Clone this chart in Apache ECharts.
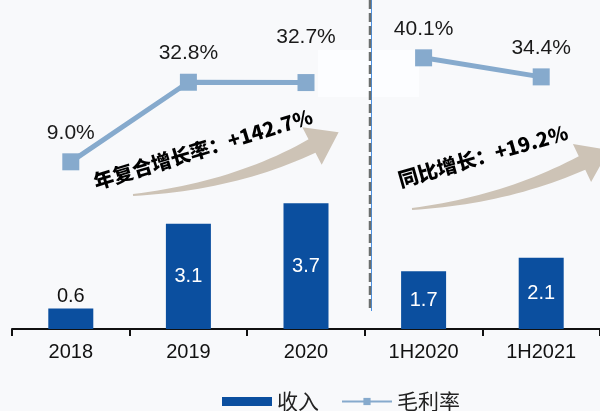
<!DOCTYPE html>
<html>
<head>
<meta charset="utf-8">
<script src="https://cdn.jsdelivr.net/npm/echarts@6/dist/echarts.min.js"></script>
<style>
  html, body { margin: 0; padding: 0; background: #f8f9fb; }
  #chart { width: 600px; height: 411px; }
</style>
</head>
<body>
<div id="chart"></div>
<script>
const categories = ["2018", "2019", "2020", "1H2020", "1H2021"];
const revenue = [0.6, 3.1, 3.7, 1.7, 2.1];
const grossMargin = [9.0, 32.8, 32.7, 40.1, 34.4];

const font = "'Liberation Sans', Arial, sans-serif";
const cjk = "'Noto Sans CJK SC', sans-serif";

// tapered curved arrow (decoration only)
function arrow(p0, c, p2, w0, w1, headW, headL) {
  const up = [], down = [];
  const n = 24;
  for (let i = 0; i <= n; i++) {
    const t = i / n;
    const x = (1 - t) * (1 - t) * p0[0] + 2 * (1 - t) * t * c[0] + t * t * p2[0];
    const y = (1 - t) * (1 - t) * p0[1] + 2 * (1 - t) * t * c[1] + t * t * p2[1];
    let dx = 2 * (1 - t) * (c[0] - p0[0]) + 2 * t * (p2[0] - c[0]);
    let dy = 2 * (1 - t) * (c[1] - p0[1]) + 2 * t * (p2[1] - c[1]);
    const l = Math.hypot(dx, dy); dx /= l; dy /= l;
    const w = (w0 + (w1 - w0) * t) / 2;
    up.push([x + dy * w, y - dx * w]);
    down.push([x - dy * w, y + dx * w]);
  }
  let dx = p2[0] - c[0], dy = p2[1] - c[1];
  const l = Math.hypot(dx, dy); dx /= l; dy /= l;
  const head = [
    [p2[0] + dy * headW, p2[1] - dx * headW],
    [p2[0] + dx * headL, p2[1] + dy * headL],
    [p2[0] - dy * headW, p2[1] + dx * headW]
  ];
  return up.concat(head, down.reverse());
}

const marginLabel = {
  show: true, position: "top", distance: 10, color: "#1a1a1a", fontSize: 21, fontFamily: font,
  formatter: p => p.value.toFixed(1) + "%"
};

const chart = echarts.init(document.getElementById("chart"));
chart.setOption({
  backgroundColor: "#f8f9fb",
  animation: false,
  grid: { left: 12, right: -9, top: 8, bottom: 82 },
  legend: {
    bottom: -6,
    left: 217,
    itemWidth: 50,
    itemHeight: 9,
    itemGap: 22,
    textStyle: { fontSize: 21, color: "#222", fontFamily: cjk },
    data: [
      { name: "收入", icon: "rect" },
      { name: "毛利率" }
    ]
  },
  xAxis: {
    type: "category",
    data: categories,
    axisLine: { lineStyle: { color: "#111", width: 2 } },
    axisTick: { show: true, length: 7, lineStyle: { color: "#111", width: 2 } },
    axisLabel: { color: "#111", fontSize: 20, fontFamily: font, margin: 13 }
  },
  yAxis: [
    { type: "value", min: 0, max: 9.45, show: false },
    { type: "value", min: -41, max: 55, show: false }
  ],
  series: [
    {
      name: "收入",
      type: "bar",
      barWidth: 45,
      itemStyle: { color: "#0b4f9f" },
      data: revenue.map((v, i) => ({
        value: v,
        label: i === 0
          ? { show: true, position: "top", distance: 2, color: "#111" }
          : { show: true, position: "inside", color: "#fff" }
      })),
      label: { fontSize: 20, fontFamily: font }
    },
    {
      name: "毛利率",
      type: "line",
      yAxisIndex: 1,
      symbol: "rect",
      symbolSize: 17,
      lineStyle: { color: "#86aacd", width: 5 },
      itemStyle: { color: "#86aacd" },
      label: marginLabel,
      data: grossMargin.map((v, i) => i < 3 ? (i === 2 ? { value: v, label: { distance: 26 } } : v) : "-")
    },
    {
      name: "毛利率",
      type: "line",
      yAxisIndex: 1,
      symbol: "rect",
      symbolSize: 17,
      lineStyle: { color: "#86aacd", width: 5 },
      itemStyle: { color: "#86aacd" },
      label: marginLabel,
      data: grossMargin.map((v, i) => i >= 3 ? v : "-")
    }
  ],
  graphic: [
    { type: "rect", z: -1, shape: { x: 318, y: 50, width: 101, height: 47 }, style: { fill: "#fcfdff" } },
    { type: "polygon", z: 1, shape: { points: arrow([133, 195], [235, 186], [312, 146], 2, 15, 21, 30) }, style: { fill: "#cdc3b6" } },
    { type: "polygon", z: 1, shape: { points: arrow([412, 209], [505, 200], [582, 163], 2, 15, 21, 30) }, style: { fill: "#cdc3b6" } },
    { type: "line", z: 2, shape: { x1: 371.5, y1: 0, x2: 371.5, y2: 311 }, style: { stroke: "#4a90e2", lineWidth: 1 } },
    { type: "line", z: 2, shape: { x1: 370, y1: 0, x2: 370, y2: 311 }, style: { stroke: "#6b6f6e", lineWidth: 2.5, lineDash: [9, 4] } },
    {
      type: "text", z: 3, x: 203, y: 149, rotation: 17 * Math.PI / 180,
      style: { text: "年复合增长率：+142.7%", fill: "#000", font: "900 20px " + cjk, align: "center", verticalAlign: "middle" }
    },
    {
      type: "text", z: 3, x: 483, y: 156, rotation: 16 * Math.PI / 180,
      style: { text: "同比增长：+19.2%", fill: "#000", font: "900 20px " + cjk, align: "center", verticalAlign: "middle" }
    }
  ]
});
</script>
</body>
</html>
